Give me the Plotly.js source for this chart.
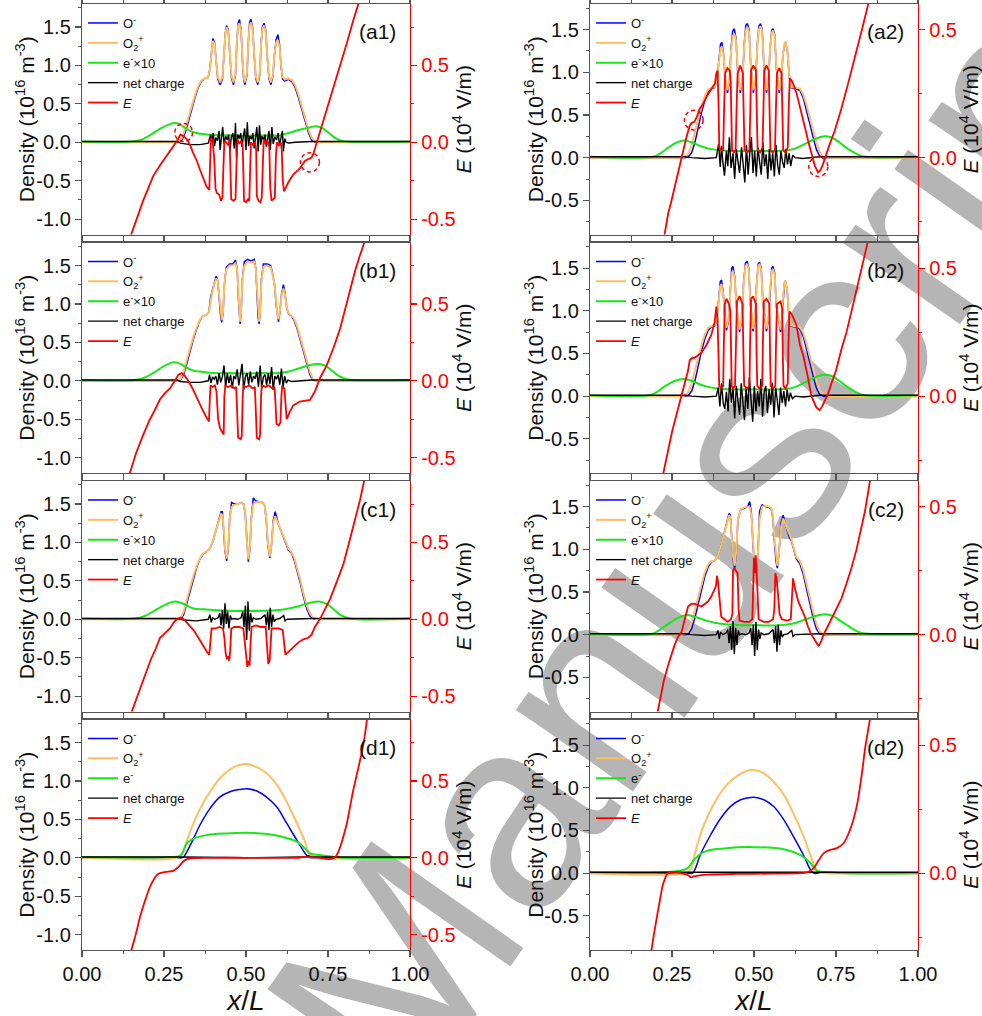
<!DOCTYPE html>
<html><head><meta charset="utf-8">
<script src="https://cdn.plot.ly/plotly-3.0.1.min.js"></script>
<style>
html,body{margin:0;padding:0;background:#fff;}
#wrap{position:relative;width:982px;height:1016px;overflow:hidden;}
#wm{position:absolute;left:0;top:0;z-index:0;}
#chart{position:absolute;left:0;top:0;width:982px;height:1016px;z-index:1;}
</style>
</head><body>
<div id="wrap">
<svg id="wm" width="982" height="1016" xmlns="http://www.w3.org/2000/svg">
  <g font-family="Liberation Sans, Arial, sans-serif" font-size="270" fill="#b5b5b5">
    <text id="wm1" text-anchor="end"></text>
    <text id="wm2"></text>
  </g>
</svg>
<div id="chart"></div>
</div>
<script>
// ---------------- DATA ----------------
// ---- a1 ----
const a1_x_ion = [0,0.28,0.295,0.305,0.315,0.325,0.335,0.345,0.355,0.365,0.375,0.385,0.390,0.395,0.399,0.404,0.409,0.414,0.421,0.428,0.433,0.437,0.441,0.446,0.451,0.456,0.462,0.468,0.472,0.476,0.480,0.485,0.489,0.493,0.497,0.503,0.507,0.511,0.515,0.520,0.525,0.530,0.536,0.542,0.546,0.550,0.555,0.560,0.565,0.570,0.576,0.582,0.587,0.592,0.597,0.602,0.607,0.612,0.618,0.630,0.640,0.650,0.660,0.670,0.680,0.690,0.700,0.710,0.730,1.0];
const a1_O2p = [0,0,0.01,0.06,0.18,0.33,0.48,0.62,0.74,0.81,0.83,0.85,0.95,1.22,1.32,1.28,1.05,0.85,0.78,0.85,1.15,1.40,1.50,1.44,1.15,0.86,0.78,0.90,1.30,1.52,1.55,1.45,1.10,0.84,0.78,0.90,1.30,1.52,1.56,1.48,1.15,0.86,0.78,0.90,1.28,1.47,1.52,1.44,1.12,0.86,0.78,0.88,1.15,1.30,1.33,1.25,1.00,0.85,0.82,0.83,0.81,0.74,0.62,0.47,0.32,0.17,0.06,0.01,0,0];
const a1_Om = [0,0,0.0,0.03,0.13,0.28,0.44,0.59,0.72,0.80,0.83,0.85,0.96,1.25,1.35,1.30,1.03,0.82,0.75,0.82,1.15,1.42,1.52,1.46,1.12,0.83,0.75,0.88,1.30,1.55,1.60,1.47,1.08,0.81,0.75,0.88,1.30,1.56,1.60,1.50,1.13,0.83,0.75,0.88,1.28,1.50,1.55,1.46,1.10,0.83,0.75,0.86,1.15,1.34,1.40,1.28,0.98,0.82,0.80,0.82,0.79,0.71,0.58,0.43,0.28,0.13,0.03,0.0,0,0];
const a1_x_e = [0,0.15,0.18,0.21,0.24,0.27,0.285,0.30,0.32,0.34,0.36,0.40,0.45,0.50,0.55,0.60,0.63,0.66,0.69,0.715,0.73,0.75,0.77,0.79,0.81,1.0];
const a1_e = [0.01,0.01,0.03,0.10,0.18,0.24,0.25,0.23,0.17,0.13,0.11,0.095,0.09,0.085,0.09,0.09,0.12,0.16,0.19,0.21,0.19,0.13,0.06,0.02,0.01,0.01];
const a1_x_net = [0,0.29,0.30,0.33,0.36,0.385,0.392,0.396,0.400,0.404,0.408,0.413,0.418,0.421,0.425,0.429,0.433,0.438,0.443,0.447,0.451,0.455,0.460,0.464,0.468,0.471,0.475,0.480,0.484,0.488,0.492,0.496,0.500,0.504,0.508,0.512,0.517,0.521,0.525,0.529,0.533,0.537,0.541,0.545,0.549,0.554,0.558,0.562,0.566,0.570,0.574,0.579,0.583,0.588,0.593,0.598,0.602,0.606,0.611,0.614,0.618,0.622,0.63,0.65,0.70,1.0];
const a1_net = [0.01,0.01,-0.01,-0.03,-0.03,-0.01,0.10,0.02,0.12,-0.05,0.06,0.02,0.15,-0.10,0.05,0.20,-0.02,0.08,0.03,0.10,-0.12,0.06,0.12,-0.08,0.25,-0.20,0.10,0.05,0.12,-0.06,0.08,0.18,-0.10,0.26,-0.05,0.08,0.04,0.12,-0.08,0.10,0.20,-0.12,0.22,-0.03,0.08,0.03,0.10,-0.06,0.06,0.15,-0.10,0.20,-0.02,0.07,0.03,0.12,-0.04,0.05,0.15,-0.12,0.05,0.00,-0.01,0.00,0.01,0.01];
const a1_x_E = [0.140,0.151,0.170,0.187,0.200,0.217,0.238,0.258,0.278,0.290,0.300,0.310,0.320,0.330,0.339,0.350,0.360,0.370,0.380,0.388,0.391,0.393,0.398,0.403,0.407,0.411,0.418,0.424,0.428,0.431,0.434,0.440,0.446,0.450,0.453,0.455,0.462,0.468,0.471,0.474,0.480,0.486,0.490,0.492,0.494,0.500,0.506,0.510,0.513,0.515,0.522,0.528,0.531,0.533,0.538,0.544,0.548,0.551,0.554,0.560,0.566,0.571,0.574,0.578,0.584,0.588,0.591,0.594,0.600,0.606,0.609,0.612,0.616,0.622,0.629,0.644,0.664,0.680,0.690,0.700,0.706,0.716,0.730,0.746,0.766,0.787,0.808,0.828,0.846,0.860];
const a1_E = [-0.66,-0.59,-0.47,-0.376,-0.31,-0.22,-0.15,-0.09,-0.03,0.01,0.05,0.04,0.02,-0.02,-0.07,-0.12,-0.18,-0.24,-0.29,-0.31,-0.05,0.03,0.01,-0.10,-0.30,-0.33,-0.34,-0.38,-0.36,-0.10,0.01,0.0,-0.02,0.01,-0.25,-0.37,-0.38,-0.37,-0.15,0.02,-0.01,0.01,-0.02,-0.30,-0.38,-0.39,-0.37,-0.38,-0.10,0.0,-0.02,0.0,-0.05,-0.35,-0.38,-0.39,-0.36,-0.08,0.02,-0.01,0.01,-0.03,-0.30,-0.38,-0.37,-0.36,-0.10,0.0,-0.02,0.0,-0.05,-0.25,-0.32,-0.29,-0.26,-0.21,-0.17,-0.12,-0.11,-0.10,-0.07,0.0,0.10,0.21,0.35,0.49,0.65,0.80,0.92,1.02];

// ---- b1 ----
const b1_x_ion = [0,0.29,0.30,0.31,0.32,0.33,0.34,0.35,0.36,0.368,0.38,0.387,0.392,0.397,0.403,0.409,0.414,0.419,0.423,0.426,0.430,0.434,0.440,0.450,0.460,0.468,0.473,0.477,0.480,0.482,0.485,0.489,0.495,0.505,0.515,0.525,0.530,0.534,0.537,0.540,0.543,0.547,0.553,0.565,0.575,0.580,0.587,0.592,0.596,0.599,0.603,0.608,0.614,0.619,0.624,0.630,0.638,0.645,0.655,0.665,0.675,0.685,0.695,0.703,0.710,1.0];
const b1_O2p = [0,0,0.02,0.12,0.28,0.44,0.58,0.70,0.80,0.84,0.86,0.90,1.05,1.15,1.25,1.33,1.30,1.05,0.85,0.79,0.90,1.25,1.45,1.50,1.50,1.53,1.45,1.10,0.85,0.77,0.90,1.30,1.50,1.55,1.54,1.55,1.45,1.10,0.85,0.77,0.90,1.30,1.48,1.50,1.48,1.40,1.25,1.00,0.85,0.80,0.90,1.10,1.20,1.12,0.95,0.88,0.85,0.82,0.72,0.58,0.42,0.27,0.12,0.03,0.0,0];
const b1_Om = [0,0,0.01,0.08,0.23,0.40,0.55,0.68,0.79,0.84,0.86,0.90,1.08,1.17,1.28,1.36,1.30,1.02,0.82,0.76,0.88,1.25,1.48,1.52,1.52,1.57,1.46,1.06,0.82,0.74,0.88,1.32,1.55,1.58,1.56,1.58,1.46,1.06,0.82,0.74,0.88,1.32,1.52,1.52,1.50,1.42,1.25,0.98,0.82,0.77,0.88,1.12,1.25,1.14,0.95,0.87,0.85,0.80,0.69,0.54,0.38,0.23,0.08,0.01,0.0,0];
const b1_x_e = [0,0.16,0.19,0.22,0.25,0.279,0.30,0.32,0.34,0.36,0.40,0.45,0.50,0.55,0.60,0.63,0.66,0.69,0.72,0.74,0.76,0.78,0.80,0.82,1.0];
const b1_e = [0.01,0.01,0.04,0.11,0.19,0.24,0.22,0.17,0.13,0.12,0.10,0.10,0.095,0.10,0.10,0.12,0.16,0.20,0.22,0.20,0.14,0.07,0.03,0.01,0.01];
const b1_x_net = [0,0.29,0.30,0.33,0.36,0.385,0.389,0.393,0.398,0.403,0.408,0.413,0.418,0.423,0.428,0.433,0.438,0.443,0.448,0.453,0.458,0.463,0.468,0.473,0.478,0.483,0.488,0.493,0.498,0.503,0.508,0.513,0.518,0.523,0.528,0.533,0.538,0.543,0.548,0.553,0.558,0.563,0.568,0.573,0.578,0.583,0.588,0.593,0.598,0.603,0.608,0.613,0.618,0.623,0.628,0.64,0.70,1.0];
const b1_net = [0.01,0.01,-0.01,-0.02,-0.02,0.00,0.08,-0.03,0.05,0.02,0.06,-0.05,0.10,-0.02,0.05,0.20,-0.08,0.10,-0.03,0.08,-0.10,0.06,0.02,0.15,-0.06,0.08,0.22,-0.12,0.05,0.10,-0.05,0.12,-0.02,0.06,0.03,0.12,-0.08,0.20,-0.10,0.05,0.08,-0.06,0.10,-0.04,0.18,-0.12,0.06,0.02,0.08,-0.05,0.16,-0.08,0.06,-0.03,0.01,-0.01,0.01,0.01];
const b1_x_E = [0.140,0.146,0.165,0.185,0.205,0.222,0.238,0.253,0.268,0.283,0.294,0.304,0.314,0.324,0.337,0.350,0.360,0.370,0.380,0.387,0.390,0.392,0.398,0.405,0.410,0.415,0.421,0.428,0.432,0.434,0.437,0.445,0.455,0.465,0.470,0.473,0.476,0.484,0.487,0.490,0.492,0.500,0.510,0.520,0.527,0.530,0.533,0.540,0.543,0.546,0.548,0.560,0.570,0.580,0.587,0.590,0.593,0.600,0.605,0.608,0.610,0.617,0.620,0.624,0.634,0.644,0.664,0.680,0.695,0.710,0.726,0.746,0.766,0.787,0.802,0.817,0.833,0.848,0.864];
const b1_E = [-0.64,-0.60,-0.47,-0.36,-0.26,-0.19,-0.12,-0.08,-0.05,0.0,0.04,0.05,0.03,0.0,-0.05,-0.11,-0.16,-0.20,-0.24,-0.265,-0.10,-0.03,-0.04,-0.03,-0.07,-0.25,-0.31,-0.34,-0.35,-0.10,-0.03,-0.04,-0.03,-0.05,-0.04,-0.20,-0.37,-0.38,-0.36,-0.10,-0.03,-0.04,-0.03,-0.05,-0.04,-0.20,-0.37,-0.38,-0.35,-0.10,-0.03,-0.04,-0.03,-0.05,-0.04,-0.15,-0.28,-0.29,-0.27,-0.10,-0.04,-0.05,-0.15,-0.25,-0.20,-0.16,-0.135,-0.13,-0.125,-0.07,0.02,0.10,0.21,0.34,0.47,0.60,0.72,0.82,0.92];

// ---- c1 ----
const c1_x_ion = [0,0.29,0.30,0.31,0.32,0.33,0.34,0.35,0.36,0.37,0.38,0.39,0.40,0.41,0.418,0.424,0.428,0.432,0.436,0.441,0.446,0.450,0.456,0.465,0.475,0.485,0.493,0.498,0.502,0.507,0.512,0.516,0.522,0.530,0.540,0.550,0.557,0.562,0.567,0.573,0.578,0.583,0.589,0.595,0.600,0.607,0.614,0.622,0.629,0.639,0.647,0.655,0.665,0.675,0.685,0.695,0.705,0.715,1.0];
const c1_O2p = [0,0,0.01,0.10,0.26,0.42,0.57,0.70,0.80,0.86,0.88,0.92,1.03,1.18,1.30,1.37,1.36,1.20,0.92,0.79,0.95,1.30,1.46,1.49,1.50,1.52,1.50,1.38,1.05,0.78,0.95,1.30,1.50,1.52,1.53,1.52,1.48,1.30,0.98,0.82,0.98,1.25,1.34,1.28,1.22,1.16,1.10,1.00,0.92,0.87,0.80,0.69,0.52,0.34,0.18,0.08,0.02,0.0,0];
const c1_Om = [0,0,0.0,0.06,0.21,0.38,0.54,0.68,0.79,0.85,0.88,0.92,1.03,1.18,1.30,1.40,1.40,1.18,0.88,0.76,0.92,1.30,1.52,1.50,1.50,1.52,1.50,1.36,1.00,0.75,0.92,1.30,1.58,1.54,1.53,1.52,1.48,1.28,0.95,0.80,0.98,1.28,1.40,1.30,1.22,1.15,1.08,0.98,0.90,0.86,0.77,0.65,0.48,0.30,0.14,0.04,0.01,0.0,0];
const c1_x_e = [0,0.16,0.19,0.22,0.25,0.27,0.289,0.31,0.34,0.37,0.40,0.45,0.50,0.55,0.60,0.63,0.66,0.69,0.726,0.75,0.77,0.79,0.817,1.0];
const c1_e = [0.01,0.01,0.04,0.11,0.18,0.22,0.23,0.20,0.14,0.13,0.12,0.11,0.11,0.11,0.12,0.14,0.17,0.21,0.23,0.19,0.12,0.05,0.01,0.01];
const c1_x_net = [0,0.29,0.31,0.35,0.385,0.390,0.394,0.398,0.405,0.415,0.420,0.424,0.428,0.432,0.436,0.440,0.444,0.448,0.452,0.456,0.462,0.475,0.485,0.490,0.494,0.498,0.502,0.506,0.510,0.514,0.518,0.522,0.530,0.545,0.558,0.562,0.566,0.570,0.574,0.578,0.582,0.586,0.591,0.603,0.615,0.619,0.625,0.70,1.0];
const c1_net = [0.01,0.01,-0.01,-0.02,0.00,0.06,-0.04,0.02,0.0,0.02,0.08,-0.08,0.12,-0.12,0.21,-0.06,0.10,-0.12,0.05,0.0,0.01,0.0,0.02,0.10,-0.10,0.18,-0.27,0.23,-0.15,0.08,-0.04,0.02,0.0,0.01,0.06,-0.08,0.10,-0.14,0.15,-0.10,0.06,-0.03,0.0,0.01,0.05,-0.02,0.0,0.01,0.01];
const c1_x_E = [0.145,0.152,0.170,0.190,0.210,0.225,0.238,0.253,0.268,0.280,0.289,0.298,0.305,0.315,0.327,0.340,0.355,0.370,0.380,0.388,0.391,0.395,0.405,0.420,0.430,0.434,0.438,0.442,0.446,0.449,0.452,0.455,0.465,0.480,0.492,0.496,0.500,0.504,0.508,0.511,0.514,0.517,0.530,0.545,0.560,0.564,0.568,0.572,0.575,0.578,0.590,0.600,0.612,0.616,0.620,0.630,0.644,0.660,0.675,0.690,0.700,0.710,0.725,0.740,0.756,0.776,0.797,0.812,0.827,0.840,0.848,0.862];
const c1_E = [-0.64,-0.60,-0.49,-0.37,-0.26,-0.19,-0.12,-0.09,-0.06,-0.02,0.0,0.01,0.01,-0.01,-0.04,-0.07,-0.12,-0.18,-0.21,-0.23,-0.15,-0.06,-0.06,-0.05,-0.06,-0.12,-0.22,-0.26,-0.24,-0.27,-0.20,-0.06,-0.05,-0.05,-0.06,-0.15,-0.26,-0.31,-0.27,-0.30,-0.15,-0.05,-0.04,-0.05,-0.05,-0.15,-0.29,-0.27,-0.15,-0.06,-0.06,-0.06,-0.07,-0.15,-0.23,-0.21,-0.18,-0.15,-0.13,-0.12,-0.10,-0.05,0.0,0.06,0.13,0.24,0.36,0.48,0.60,0.70,0.78,0.92];

// ---- d1 ----
const d1_x_ion = [0,0.29,0.304,0.31,0.32,0.34,0.36,0.39,0.42,0.451,0.482,0.502,0.533,0.563,0.594,0.624,0.655,0.68,0.69,0.705,0.72,1.0];
const d1_O2p = [0,0,0.04,0.10,0.23,0.45,0.64,0.86,1.03,1.15,1.21,1.22,1.18,1.10,0.95,0.73,0.45,0.21,0.08,0.02,0,0];
const d1_Om = [0,0,0.0,0.01,0.08,0.25,0.43,0.64,0.79,0.86,0.89,0.90,0.87,0.79,0.66,0.45,0.23,0.06,0.01,0.0,0,0];
const d1_x_e = [0,0.26,0.30,0.32,0.34,0.38,0.44,0.50,0.563,0.614,0.655,0.68,0.695,0.725,0.766,0.80,1.0];
const d1_e = [0.01,0.01,0.03,0.19,0.25,0.295,0.317,0.325,0.31,0.27,0.21,0.12,0.056,0.035,0.013,0.0,0.0];
const d1_x_net = [0,0.30,0.50,0.68,0.69,0.70,0.75,1.0];
const d1_net = [0.01,0.01,0.0,0.01,0.03,0.01,0.01,0.01];
const d1_x_E = [0.148,0.151,0.165,0.177,0.192,0.207,0.218,0.228,0.238,0.248,0.263,0.278,0.294,0.304,0.314,0.33,0.40,0.50,0.60,0.665,0.675,0.70,0.725,0.751,0.771,0.787,0.797,0.807,0.817,0.827,0.843,0.858,0.870];
const d1_E = [-0.64,-0.60,-0.49,-0.384,-0.28,-0.19,-0.145,-0.113,-0.10,-0.095,-0.09,-0.085,-0.06,-0.035,-0.015,-0.004,0.0,0.0,0.0,0.002,0.006,0.004,0.0,-0.008,0.002,0.07,0.14,0.22,0.33,0.44,0.59,0.74,0.92];

// ---- a2 ----
const a2_x_ion = [0,0.28,0.29,0.30,0.31,0.32,0.33,0.34,0.35,0.36,0.37,0.38,0.387,0.393,0.398,0.402,0.407,0.412,0.419,0.425,0.430,0.435,0.440,0.445,0.450,0.458,0.465,0.470,0.475,0.480,0.485,0.490,0.498,0.505,0.510,0.515,0.520,0.525,0.530,0.538,0.544,0.549,0.554,0.558,0.563,0.568,0.577,0.583,0.588,0.593,0.597,0.602,0.607,0.613,0.625,0.640,0.650,0.660,0.670,0.680,0.690,0.700,0.710,0.730,1.0];
const a2_O2p = [0,0,0.01,0.05,0.15,0.30,0.46,0.60,0.72,0.80,0.82,0.83,0.90,1.15,1.28,1.30,1.20,0.95,0.79,0.90,1.25,1.42,1.45,1.38,1.05,0.79,0.92,1.30,1.50,1.53,1.47,1.10,0.79,0.92,1.30,1.50,1.54,1.48,1.12,0.79,0.92,1.28,1.46,1.49,1.42,1.08,0.79,0.92,1.20,1.34,1.36,1.25,0.98,0.83,0.82,0.81,0.74,0.62,0.47,0.32,0.18,0.07,0.01,0,0];
const a2_Om = [0,0,0.0,0.01,0.06,0.18,0.36,0.53,0.67,0.77,0.81,0.82,0.90,1.18,1.33,1.35,1.22,0.93,0.76,0.88,1.28,1.48,1.51,1.40,1.02,0.76,0.90,1.32,1.55,1.57,1.50,1.08,0.76,0.90,1.32,1.54,1.57,1.50,1.10,0.76,0.90,1.28,1.49,1.51,1.44,1.05,0.76,0.90,1.20,1.32,1.34,1.24,0.96,0.82,0.81,0.79,0.70,0.56,0.40,0.24,0.10,0.02,0.0,0,0];
const a2_x_e = [0,0.19,0.21,0.24,0.265,0.287,0.31,0.34,0.37,0.42,0.50,0.58,0.62,0.65,0.68,0.70,0.72,0.74,0.76,0.78,0.80,0.82,0.84,1.0];
const a2_e = [0.01,0.01,0.04,0.12,0.18,0.20,0.18,0.13,0.10,0.08,0.08,0.08,0.10,0.15,0.21,0.24,0.25,0.23,0.18,0.12,0.07,0.03,0.01,0.01];
const a2_x_net = [0,0.29,0.31,0.35,0.385,0.392,0.397,0.401,0.405,0.410,0.416,0.420,0.425,0.430,0.436,0.441,0.446,0.451,0.456,0.462,0.467,0.472,0.477,0.482,0.487,0.492,0.497,0.502,0.507,0.512,0.517,0.522,0.527,0.532,0.537,0.542,0.547,0.552,0.557,0.562,0.567,0.572,0.577,0.582,0.587,0.592,0.597,0.602,0.607,0.612,0.618,0.625,0.65,0.70,1.0];
const a2_net = [0.01,0.01,0.0,-0.01,0.0,0.16,-0.11,0.14,-0.05,-0.21,0.08,-0.10,0.24,-0.12,0.05,-0.25,0.10,-0.03,-0.18,0.12,-0.08,-0.29,0.15,-0.20,0.05,0.24,-0.18,0.08,-0.22,0.12,-0.05,-0.20,0.18,-0.10,0.04,-0.25,0.10,-0.15,0.06,-0.22,0.15,-0.08,-0.20,0.08,-0.05,-0.12,0.10,-0.08,0.05,-0.10,0.03,0.0,-0.01,0.01,0.01];
const a2_x_E = [0.226,0.238,0.248,0.258,0.268,0.279,0.287,0.294,0.304,0.310,0.318,0.326,0.334,0.345,0.356,0.366,0.375,0.381,0.385,0.389,0.392,0.394,0.400,0.406,0.409,0.412,0.419,0.426,0.429,0.431,0.433,0.438,0.444,0.447,0.450,0.458,0.466,0.469,0.471,0.479,0.486,0.489,0.491,0.498,0.506,0.509,0.511,0.519,0.526,0.529,0.531,0.538,0.545,0.548,0.550,0.557,0.564,0.567,0.570,0.577,0.584,0.587,0.589,0.596,0.603,0.606,0.609,0.615,0.622,0.630,0.638,0.645,0.655,0.665,0.675,0.685,0.695,0.702,0.709,0.716,0.730,0.746,0.766,0.787,0.802,0.817,0.833,0.848,0.852];
const a2_E = [-0.31,-0.22,-0.17,-0.116,-0.06,0.0,0.05,0.08,0.125,0.135,0.14,0.16,0.19,0.21,0.24,0.26,0.28,0.29,0.33,0.34,0.20,0.04,0.03,0.03,0.20,0.33,0.35,0.34,0.30,0.10,0.03,0.02,0.03,0.20,0.33,0.36,0.33,0.15,0.03,0.02,0.03,0.20,0.34,0.36,0.34,0.15,0.03,0.02,0.04,0.20,0.34,0.36,0.34,0.15,0.03,0.02,0.03,0.20,0.33,0.35,0.33,0.15,0.03,0.02,0.04,0.20,0.31,0.30,0.28,0.25,0.21,0.18,0.12,0.066,0.014,-0.03,-0.057,-0.05,-0.03,0.0,0.05,0.105,0.19,0.29,0.37,0.44,0.52,0.59,0.62];

// ---- b2 ----
const b2_x_ion = [0,0.28,0.29,0.30,0.31,0.32,0.33,0.34,0.35,0.36,0.37,0.38,0.387,0.392,0.397,0.401,0.406,0.411,0.416,0.422,0.427,0.432,0.436,0.441,0.447,0.456,0.463,0.468,0.474,0.479,0.484,0.489,0.497,0.503,0.508,0.513,0.517,0.522,0.527,0.538,0.544,0.549,0.554,0.558,0.563,0.568,0.581,0.585,0.589,0.593,0.596,0.601,0.606,0.612,0.625,0.640,0.650,0.660,0.670,0.680,0.690,0.700,0.712,0.730,1.0];
const b2_O2p = [0,0,0.01,0.05,0.15,0.30,0.46,0.60,0.72,0.80,0.82,0.83,0.90,1.15,1.29,1.31,1.20,0.95,0.80,0.90,1.25,1.44,1.47,1.38,1.05,0.78,0.92,1.30,1.52,1.55,1.48,1.10,0.79,0.92,1.30,1.52,1.55,1.48,1.12,0.79,0.92,1.28,1.46,1.49,1.42,1.08,0.78,0.92,1.20,1.33,1.35,1.25,0.98,0.83,0.82,0.81,0.74,0.62,0.47,0.32,0.18,0.07,0.02,0,0];
const b2_Om = [0,0,0.0,0.01,0.06,0.18,0.36,0.53,0.67,0.77,0.81,0.82,0.90,1.18,1.34,1.36,1.22,0.93,0.77,0.88,1.28,1.50,1.52,1.40,1.02,0.75,0.90,1.32,1.56,1.58,1.50,1.08,0.76,0.90,1.32,1.55,1.57,1.50,1.10,0.76,0.90,1.28,1.50,1.52,1.44,1.05,0.75,0.90,1.20,1.33,1.35,1.24,0.96,0.82,0.81,0.79,0.70,0.56,0.40,0.24,0.10,0.02,0.0,0,0];
const b2_x_e = [0,0.18,0.20,0.23,0.26,0.284,0.31,0.34,0.37,0.42,0.50,0.58,0.62,0.65,0.68,0.70,0.72,0.74,0.76,0.78,0.80,0.82,0.838,1.0];
const b2_e = [0.01,0.01,0.04,0.12,0.18,0.20,0.18,0.13,0.10,0.08,0.08,0.08,0.10,0.15,0.21,0.24,0.25,0.23,0.18,0.12,0.07,0.03,0.01,0.01];
const b2_x_net = [0,0.29,0.31,0.35,0.385,0.391,0.396,0.401,0.406,0.411,0.416,0.421,0.426,0.431,0.436,0.441,0.446,0.451,0.456,0.461,0.466,0.471,0.476,0.481,0.486,0.491,0.496,0.501,0.506,0.511,0.516,0.521,0.526,0.531,0.536,0.541,0.546,0.551,0.556,0.561,0.566,0.571,0.576,0.581,0.586,0.591,0.596,0.601,0.606,0.611,0.617,0.625,0.65,0.70,1.0];
const b2_net = [0.01,0.01,0.0,-0.01,0.0,0.10,-0.12,0.15,-0.08,-0.15,0.05,-0.18,0.20,-0.08,0.10,-0.26,0.12,-0.05,-0.22,0.15,-0.10,-0.28,0.10,-0.15,0.22,-0.05,-0.30,0.12,-0.18,0.06,-0.12,0.20,-0.24,0.05,0.12,-0.20,0.08,-0.10,0.16,-0.25,0.10,-0.05,-0.22,0.10,-0.08,0.06,-0.12,0.08,-0.06,0.04,-0.03,0.0,-0.01,0.01,0.01];
const b2_x_E = [0.222,0.238,0.250,0.260,0.270,0.279,0.289,0.299,0.304,0.312,0.319,0.330,0.340,0.355,0.370,0.380,0.385,0.389,0.392,0.394,0.400,0.406,0.408,0.411,0.416,0.424,0.428,0.430,0.432,0.436,0.442,0.445,0.448,0.456,0.465,0.468,0.470,0.479,0.486,0.488,0.491,0.497,0.506,0.508,0.510,0.517,0.525,0.527,0.530,0.538,0.547,0.549,0.551,0.558,0.565,0.567,0.570,0.581,0.586,0.588,0.590,0.596,0.603,0.605,0.608,0.615,0.622,0.629,0.640,0.650,0.665,0.675,0.690,0.700,0.708,0.716,0.726,0.736,0.750,0.766,0.782,0.797,0.812,0.827,0.838,0.848,0.852];
const b2_E = [-0.31,-0.21,-0.14,-0.09,-0.04,0.0,0.05,0.10,0.14,0.15,0.15,0.16,0.17,0.20,0.24,0.29,0.35,0.30,0.10,0.04,0.03,0.04,0.20,0.36,0.38,0.36,0.33,0.15,0.04,0.03,0.04,0.20,0.37,0.39,0.36,0.15,0.04,0.03,0.04,0.20,0.38,0.39,0.36,0.15,0.04,0.03,0.04,0.20,0.37,0.38,0.36,0.15,0.04,0.03,0.04,0.20,0.36,0.37,0.34,0.15,0.04,0.03,0.05,0.20,0.33,0.32,0.30,0.28,0.20,0.16,0.07,0.0,-0.044,-0.055,-0.04,-0.02,0.01,0.05,0.10,0.18,0.25,0.33,0.41,0.50,0.55,0.61,0.63];

// ---- c2 ----
const c2_x_ion = [0,0.28,0.29,0.30,0.31,0.32,0.33,0.34,0.35,0.36,0.37,0.38,0.39,0.40,0.41,0.418,0.424,0.428,0.432,0.436,0.441,0.446,0.451,0.460,0.470,0.480,0.487,0.492,0.497,0.502,0.507,0.512,0.517,0.525,0.535,0.545,0.553,0.558,0.563,0.567,0.571,0.576,0.582,0.589,0.595,0.602,0.608,0.614,0.622,0.629,0.640,0.650,0.660,0.670,0.680,0.690,0.700,0.710,0.730,1.0];
const c2_O2p = [0,0,0.01,0.05,0.15,0.30,0.46,0.61,0.73,0.82,0.86,0.87,0.93,1.05,1.20,1.32,1.40,1.38,1.20,0.92,0.81,0.98,1.35,1.47,1.49,1.50,1.49,1.40,1.10,0.82,0.77,0.95,1.35,1.50,1.51,1.50,1.48,1.38,1.10,0.90,0.81,0.95,1.25,1.36,1.30,1.22,1.16,1.12,1.00,0.91,0.86,0.76,0.60,0.43,0.27,0.13,0.04,0.01,0,0];
const c2_Om = [0,0,0.0,0.01,0.07,0.20,0.37,0.54,0.68,0.79,0.85,0.87,0.93,1.05,1.20,1.33,1.42,1.40,1.16,0.88,0.78,0.95,1.35,1.47,1.48,1.50,1.56,1.42,1.05,0.78,0.74,0.95,1.45,1.52,1.50,1.49,1.47,1.35,1.05,0.86,0.78,0.95,1.30,1.40,1.30,1.20,1.14,1.10,0.98,0.89,0.83,0.71,0.54,0.36,0.20,0.07,0.01,0.0,0,0];
const c2_x_e = [0,0.19,0.21,0.24,0.27,0.294,0.32,0.35,0.38,0.42,0.50,0.58,0.62,0.65,0.68,0.70,0.716,0.74,0.76,0.78,0.80,0.82,0.848,1.0];
const c2_e = [0.01,0.01,0.05,0.13,0.20,0.23,0.21,0.17,0.14,0.12,0.11,0.11,0.13,0.17,0.21,0.23,0.24,0.22,0.17,0.12,0.07,0.03,0.01,0.01];
const c2_x_net = [0,0.29,0.31,0.35,0.385,0.390,0.394,0.398,0.405,0.415,0.420,0.424,0.428,0.432,0.436,0.440,0.444,0.448,0.452,0.456,0.462,0.475,0.485,0.490,0.494,0.498,0.502,0.506,0.510,0.514,0.518,0.522,0.530,0.545,0.558,0.562,0.566,0.570,0.574,0.578,0.582,0.586,0.591,0.603,0.615,0.619,0.625,0.70,1.0];
const c2_net = [0.01,0.01,0.0,-0.01,0.00,0.05,-0.05,0.03,0.0,0.02,0.06,-0.10,0.10,-0.18,0.16,-0.23,0.08,-0.12,0.05,0.0,0.01,0.0,0.02,0.08,-0.12,0.12,-0.25,0.15,-0.18,0.06,-0.05,0.02,0.0,0.01,0.06,-0.10,0.10,-0.20,0.12,-0.12,0.05,-0.03,0.0,0.01,0.05,-0.02,0.0,0.01,0.01];
const c2_x_E = [0.205,0.215,0.225,0.238,0.248,0.258,0.268,0.279,0.289,0.299,0.309,0.320,0.330,0.340,0.350,0.360,0.370,0.378,0.384,0.387,0.390,0.395,0.400,0.410,0.420,0.430,0.434,0.436,0.440,0.445,0.450,0.453,0.456,0.470,0.485,0.495,0.498,0.500,0.503,0.505,0.508,0.511,0.514,0.530,0.545,0.558,0.562,0.565,0.569,0.573,0.578,0.585,0.600,0.612,0.615,0.619,0.625,0.635,0.645,0.655,0.665,0.675,0.685,0.697,0.705,0.712,0.724,0.736,0.750,0.766,0.782,0.797,0.812,0.827,0.838,0.848,0.856];
const c2_E = [-0.31,-0.24,-0.18,-0.12,-0.08,-0.04,-0.01,0.01,0.06,0.11,0.12,0.12,0.115,0.11,0.12,0.13,0.15,0.17,0.19,0.23,0.21,0.14,0.07,0.06,0.05,0.06,0.08,0.25,0.26,0.25,0.24,0.10,0.055,0.05,0.05,0.06,0.20,0.30,0.24,0.31,0.25,0.12,0.06,0.05,0.05,0.06,0.10,0.24,0.22,0.16,0.08,0.06,0.055,0.06,0.15,0.22,0.18,0.13,0.10,0.07,0.03,0.0,-0.02,-0.045,-0.025,0.0,0.03,0.06,0.10,0.14,0.20,0.26,0.33,0.41,0.48,0.556,0.62];

// ---- d2 ----
const d2_x_O2p = [0,0.29,0.308,0.318,0.338,0.358,0.388,0.418,0.449,0.479,0.50,0.53,0.56,0.591,0.62,0.651,0.672,0.687,0.697,0.72,1.0];
const d2_O2p = [0,0,0.04,0.20,0.47,0.66,0.88,1.04,1.14,1.20,1.21,1.17,1.07,0.92,0.70,0.43,0.21,0.06,0.01,0,0];
const d2_x_Om = [0,0.30,0.313,0.338,0.368,0.398,0.428,0.459,0.50,0.53,0.56,0.591,0.62,0.651,0.672,0.682,0.70,1.0];
const d2_Om = [0,0,0.0,0.23,0.45,0.64,0.78,0.86,0.89,0.86,0.78,0.625,0.43,0.21,0.04,0.0,0,0];
const d2_x_e = [0,0.257,0.298,0.318,0.348,0.409,0.50,0.591,0.642,0.672,0.692,0.733,0.78,1.0];
const d2_e = [0.01,0.02,0.06,0.16,0.25,0.29,0.305,0.28,0.21,0.12,0.03,0.01,0.0,0.0];
const d2_x_net = [0,0.30,0.50,0.70,1.0];
const d2_net = [0.01,0.01,0.005,0.01,0.01];
const d2_x_E = [0.185,0.196,0.206,0.214,0.221,0.229,0.237,0.252,0.277,0.298,0.308,0.318,0.328,0.358,0.45,0.55,0.64,0.662,0.682,0.697,0.713,0.728,0.753,0.773,0.793,0.813,0.829,0.839,0.848,0.856];
const d2_E = [-0.32,-0.23,-0.156,-0.10,-0.05,-0.02,0.0,0.004,0.0,-0.007,-0.016,-0.012,-0.01,-0.006,-0.003,-0.002,0.0,0.003,0.02,0.05,0.078,0.089,0.098,0.117,0.17,0.26,0.39,0.49,0.56,0.62];

// ---- labels / ticks ----
const panelLabels = ['(a1)','(b1)','(c1)','(d1)','(a2)','(b2)','(c2)','(d2)'];
const seriesNames = ['O<sup>-</sup>','O<sub>2</sub><sup>+</sup>','e<sup>-</sup>×10','net charge','<i>E</i>'];
const seriesNamesD = ['O<sup>-</sup>','O<sub>2</sub><sup>+</sup>','e<sup>-</sup>','net charge','<i>E</i>'];
const densTitle = 'Density (10<sup>16</sup> m<sup>-3</sup>)';
const eTitle = '<i>E</i> (10<sup>4</sup> V/m)';
const xTitle = '<i>x</i>/<i>L</i>';
const watermarkWords = ['Accepted', 'Manuscript'];
const xTickVals = [0,0.25,0.5,0.75,1];
const xTickText = ['0.00','0.25','0.50','0.75','1.00'];
const xMinorVals = [0.125,0.375,0.625,0.875];
const densTickVals = [[-1,-0.5,0,0.5,1,1.5],[-0.5,0,0.5,1,1.5]];
const densTickText = [['-1.0','-0.5','0.0','0.5','1.0','1.5'],['-0.5','0.0','0.5','1.0','1.5']];
const densMinorVals = [[-0.75,-0.25,0.25,0.75,1.25,1.75],[-0.75,-0.25,0.25,0.75,1.25,1.75]];
const eTickVals = [[-0.5,0,0.5],[0,0.5]];
const eTickText = [['-0.5','0.0','0.5'],['0.0','0.5']];
const eMinorVals = [[-0.25,0.25,0.75],[-0.25,0.25]];
const densRange = [[-1.2,1.8],[-0.9,1.8]];
const eRange = [[-0.6,0.9],[-0.3,0.6]];

// ---------------- WATERMARK (behind the chart) ----------------
(function(){
  const bx = 407, by = 1114, ang = -55, gap = 75;
  const t1 = document.getElementById('wm1'), t2 = document.getElementById('wm2');
  const rad = ang*Math.PI/180, ux = Math.cos(rad), uy = Math.sin(rad);
  t2.setAttribute('x', bx); t2.setAttribute('y', by);
  t2.setAttribute('transform', 'rotate('+ang+' '+bx+' '+by+')');
  t2.textContent = watermarkWords[1];
  const ex = bx - gap*ux, ey = by - gap*uy;
  t1.setAttribute('x', ex); t1.setAttribute('y', ey);
  t1.setAttribute('transform', 'rotate('+ang+' '+ex+' '+ey+')');
  t1.textContent = watermarkWords[0];
})();

// ---------------- FIGURE ----------------
const P = [
 {c:0,r:0,xi:a1_x_ion,xo:a1_x_ion,om:a1_Om,o2:a1_O2p,xe:a1_x_e,e:a1_e,xn:a1_x_net,n:a1_net,xE:a1_x_E,E:a1_E},
 {c:0,r:1,xi:b1_x_ion,xo:b1_x_ion,om:b1_Om,o2:b1_O2p,xe:b1_x_e,e:b1_e,xn:b1_x_net,n:b1_net,xE:b1_x_E,E:b1_E},
 {c:0,r:2,xi:c1_x_ion,xo:c1_x_ion,om:c1_Om,o2:c1_O2p,xe:c1_x_e,e:c1_e,xn:c1_x_net,n:c1_net,xE:c1_x_E,E:c1_E},
 {c:0,r:3,xi:d1_x_ion,xo:d1_x_ion,om:d1_Om,o2:d1_O2p,xe:d1_x_e,e:d1_e,xn:d1_x_net,n:d1_net,xE:d1_x_E,E:d1_E,smooth:true},
 {c:1,r:0,xi:a2_x_ion,xo:a2_x_ion,om:a2_Om,o2:a2_O2p,xe:a2_x_e,e:a2_e,xn:a2_x_net,n:a2_net,xE:a2_x_E,E:a2_E},
 {c:1,r:1,xi:b2_x_ion,xo:b2_x_ion,om:b2_Om,o2:b2_O2p,xe:b2_x_e,e:b2_e,xn:b2_x_net,n:b2_net,xE:b2_x_E,E:b2_E},
 {c:1,r:2,xi:c2_x_ion,xo:c2_x_ion,om:c2_Om,o2:c2_O2p,xe:c2_x_e,e:c2_e,xn:c2_x_net,n:c2_net,xE:c2_x_E,E:c2_E},
 {c:1,r:3,xi:d2_x_O2p,xo:d2_x_Om,om:d2_Om,o2:d2_O2p,xe:d2_x_e,e:d2_e,xn:d2_x_net,n:d2_net,xE:d2_x_E,E:d2_E,smooth:true}
];

const W = 982, H = 1016;
const FONT = 'Liberation Sans, Arial, Helvetica, sans-serif';
const AX = '#555555';
const colPx = [[82,410],[590,918]];
const rowPx = [[4,234.5],[242.5,473],[481,711.5],[719.5,950]];
const densTitleX = [25,534];
const xdom = c => [colPx[c][0]/W, colPx[c][1]/W];
const ydom = r => [1-rowPx[r][1]/H, 1-rowPx[r][0]/H];
const COL = {om:'#0000ff', o2:'#ffbf60', e:'#19e619', n:'#000000', E:'#ff0000'};

const traces = [];
const layout = {
  width:W, height:H, margin:{l:0,r:0,t:0,b:0},
  paper_bgcolor:'rgba(0,0,0,0)', plot_bgcolor:'rgba(0,0,0,0)',
  font:{family:FONT, color:'#000'},
  showlegend:true, annotations:[], shapes:[]
};

P.forEach((p,i)=>{
  const k = i+1;
  const xa = k===1?'x':'x'+k;
  const yd = (2*i+1)===1?'y':'y'+(2*i+1);
  const ye = 'y'+(2*i+2);
  const lg = k===1?'legend':'legend'+k;
  const names = p.r===3 ? seriesNamesD : seriesNames;
  const shape = p.smooth ? 'spline' : 'linear';
  traces.push({x:p.xo, y:p.om, xaxis:xa, yaxis:yd, legend:lg, name:names[0], mode:'lines', line:{color:COL.om,width:1.5,shape:shape}});
  traces.push({x:p.xi, y:p.o2, xaxis:xa, yaxis:yd, legend:lg, name:names[1], mode:'lines', line:{color:COL.o2,width:2,shape:shape}});
  traces.push({x:p.xe, y:p.e, xaxis:xa, yaxis:yd, legend:lg, name:names[2], mode:'lines', line:{color:COL.e,width:2,shape:'spline'}});
  traces.push({x:p.xn, y:p.n, xaxis:xa, yaxis:yd, legend:lg, name:names[3], mode:'lines', line:{color:COL.n,width:1.4}});
  traces.push({x:p.xE, y:p.E, xaxis:xa, yaxis:ye, legend:lg, name:names[4], mode:'lines', line:{color:COL.E,width:1.8,shape:shape}});

  const bottom = p.r===3;
  const xaxis = {
    domain:xdom(p.c), anchor:yd, range:[0,1], showgrid:false, zeroline:false,
    showline:true, linecolor:AX, linewidth:1.2, mirror:'ticks',
    ticks:'outside', ticklen:6, tickwidth:1.2, tickcolor:AX,
    tickmode:'array', tickvals:xTickVals, ticktext:xTickText,
    minor:{tickmode:'array', tickvals:xMinorVals, ticks:'outside', ticklen:3, tickwidth:1, tickcolor:AX},
    showticklabels:bottom, tickfont:{size:20, family:FONT, color:'#111'}
  };
  if (bottom) xaxis.title = {text:xTitle, font:{size:28,family:FONT,color:'#111'}, standoff:4};
  layout[k===1?'xaxis':'xaxis'+k] = xaxis;
  layout[(2*i+1)===1?'yaxis':'yaxis'+(2*i+1)] = {
    domain:ydom(p.r), anchor:xa, range:densRange[p.c], showgrid:false, zeroline:false,
    showline:true, linecolor:AX, linewidth:1.2,
    ticks:'outside', ticklen:6, tickwidth:1.2, tickcolor:AX,
    tickmode:'array', tickvals:densTickVals[p.c], ticktext:densTickText[p.c],
    minor:{tickmode:'array', tickvals:densMinorVals[p.c], ticks:'outside', ticklen:3, tickwidth:1, tickcolor:AX},
    tickfont:{size:20, family:FONT, color:'#111'}
  };
  layout['yaxis'+(2*i+2)] = {
    overlaying:yd, side:'right', anchor:xa, range:eRange[p.c], showgrid:false, zeroline:false,
    showline:true, linecolor:'#ff0000', linewidth:1.2,
    ticks:'outside', ticklen:6, tickwidth:1.2, tickcolor:'#ff0000',
    tickmode:'array', tickvals:eTickVals[p.c], ticktext:eTickText[p.c],
    minor:{tickmode:'array', tickvals:eMinorVals[p.c], ticks:'outside', ticklen:3, tickwidth:1, tickcolor:'#ff0000'},
    tickfont:{size:20, family:FONT, color:'#ff0000'},
    title:{text:eTitle, font:{size:21,family:FONT,color:'#111'}, standoff:1}
  };
  layout[lg] = {
    x:(colPx[p.c][0]+1)/W, y:1-(rowPx[p.r][0]+4)/H, xanchor:'left', yanchor:'top',
    bgcolor:'rgba(0,0,0,0)', borderwidth:0, tracegroupgap:0, itemwidth:30,
    font:{size:13, family:FONT, color:'#111'}
  };
  layout.annotations.push({
    xref:'paper', yref:'paper', x:densTitleX[p.c]/W, y:1-((rowPx[p.r][0]+rowPx[p.r][1])/2)/H,
    xanchor:'center', yanchor:'middle', textangle:-90, showarrow:false, text:densTitle,
    font:{size:21, family:FONT, color:'#111'}
  });
  layout.annotations.push({
    xref:'paper', yref:'paper', x:(colPx[p.c][1]-12)/W, y:1-(rowPx[p.r][0]+28)/H,
    xanchor:'right', yanchor:'middle', showarrow:false, text:panelLabels[i],
    font:{size:21, family:FONT, color:'#111'}
  });
});

const circ = (xa, ya, x0, x1, y0, y1) => ({type:'circle', xref:xa, yref:ya, x0:x0, x1:x1, y0:y0, y1:y1,
  line:{color:'#ff0000', width:1.5, dash:'4px,3px'}});
layout.shapes.push(circ('x','y',0.283,0.337,0.01,0.245));
layout.shapes.push(circ('x','y',0.666,0.724,-0.385,-0.135));
layout.shapes.push(circ('x5','y9',0.288,0.345,0.325,0.555));
layout.shapes.push(circ('x5','y9',0.667,0.725,-0.22,0.01));

Plotly.newPlot('chart', traces, layout, {staticPlot:true, displayModeBar:false});
</script>
</body></html>
